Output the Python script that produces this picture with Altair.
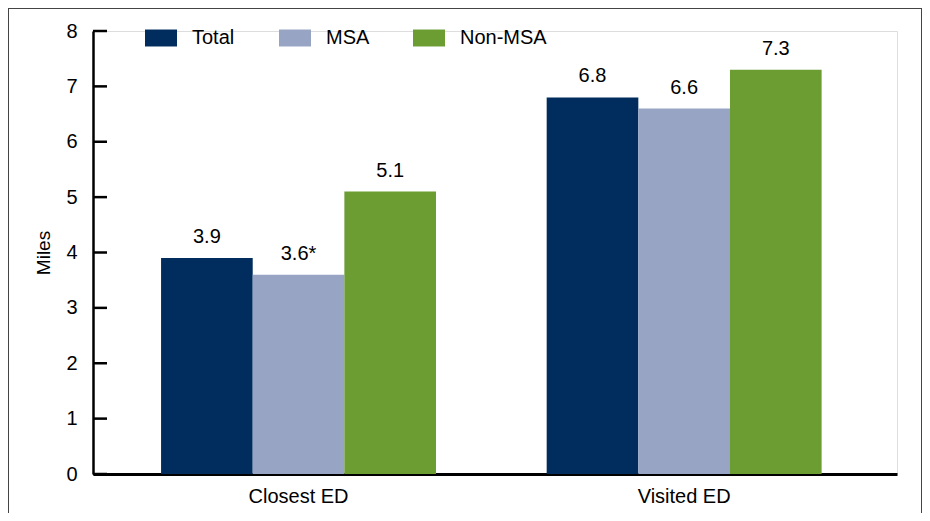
import altair as alt
import pandas as pd

categories = ["Closest ED", "Visited ED"]
groups = ["Total", "MSA", "Non-MSA"]
total_vals = [3.9, 6.8]
msa_vals = [3.6, 6.6]
nonmsa_vals = [5.1, 7.3]
total_labels = ["3.9", "6.8"]
msa_labels = ["3.6*", "6.6"]
nonmsa_labels = ["5.1", "7.3"]
y_ticks = [0, 1, 2, 3, 4, 5, 6, 7, 8]
colors = ["#002C5E", "#97A4C4", "#6B9D32"]

rows = []
for i, c in enumerate(categories):
    for g, vals, labs in zip(groups, [total_vals, msa_vals, nonmsa_vals],
                             [total_labels, msa_labels, nonmsa_labels]):
        rows.append({"category": c, "group": g, "value": vals[i], "label": labs[i]})
df = pd.DataFrame(rows)
df_ticks = pd.DataFrame({"v": y_ticks})

FONT = "Liberation Sans"
W, H = 804, 443

x_enc = alt.X("category:N", sort=categories, title=None,
              scale=alt.Scale(paddingInner=0.287, paddingOuter=0.186, align=0.4745),
              axis=alt.Axis(labelAngle=0, ticks=False, domainColor="black",
                            domainWidth=3, labelFontSize=20, labelPadding=12,
                            labelColor="black", labelFont=FONT))
y_scale = alt.Scale(domain=[0, 8], nice=False, zero=True)
xoff = alt.XOffset("group:N", sort=groups, scale=alt.Scale(paddingInner=0, paddingOuter=0))
color_enc = alt.Color("group:N", sort=groups, scale=alt.Scale(domain=groups, range=colors),
                      legend=alt.Legend(title=None, orient="none", legendX=52, legendY=-9,
                                        direction="horizontal", columns=3, gridAlign="all",
                                        columnPadding=0,
                                        symbolType="M-1,-0.53H1V0.53H-1Z", symbolSize=1024,
                                        symbolStrokeWidth=0, symbolOpacity=1,
                                        labelFontSize=20, labelFont=FONT, labelColor="black",
                                        labelOffset=15))

bars = alt.Chart(df).mark_bar().encode(
    x=x_enc,
    xOffset=xoff,
    y=alt.Y("value:Q", scale=y_scale, title="Miles",
            axis=alt.Axis(values=y_ticks, format="d", ticks=False, grid=False,
                          domainColor="black", domainWidth=2.5, labelFontSize=20,
                          labelFont=FONT, labelColor="black", labelPadding=16,
                          titleFontSize=19, titleFont=FONT, titleFontWeight="normal",
                          titleColor="black", titlePadding=12)),
    color=color_enc,
)

texts = alt.Chart(df).mark_text(baseline="alphabetic", dy=-15, fontSize=20, font=FONT,
                                color="black").encode(
    x=alt.X("category:N", sort=categories),
    xOffset=alt.XOffset("group:N", sort=groups),
    y=alt.Y("value:Q", scale=y_scale),
    text="label:N",
)

ticks = alt.Chart(df_ticks).mark_rule(color="black", strokeWidth=2.5).encode(
    y=alt.Y("v:Q", scale=y_scale),
    x=alt.value(0),
    x2=alt.value(14),
)

frame = alt.Chart(df_ticks).mark_rect(fillOpacity=0, stroke="#444444", strokeWidth=1).encode(
    x=alt.value(-84.5), x2=alt.value(828.5), y=alt.value(-22.5), y2=alt.value(530)
)

chart = alt.layer(bars, texts, ticks, frame).properties(
    width=W, height=H,
    autosize=alt.AutoSizeParams(type="none"),
    padding={"left": 85, "top": 23, "right": 25, "bottom": 39},
).configure_view(stroke=None).configure(background="white")

chart.save("out.html", embed_options={"renderer": "svg", "actions": False})
